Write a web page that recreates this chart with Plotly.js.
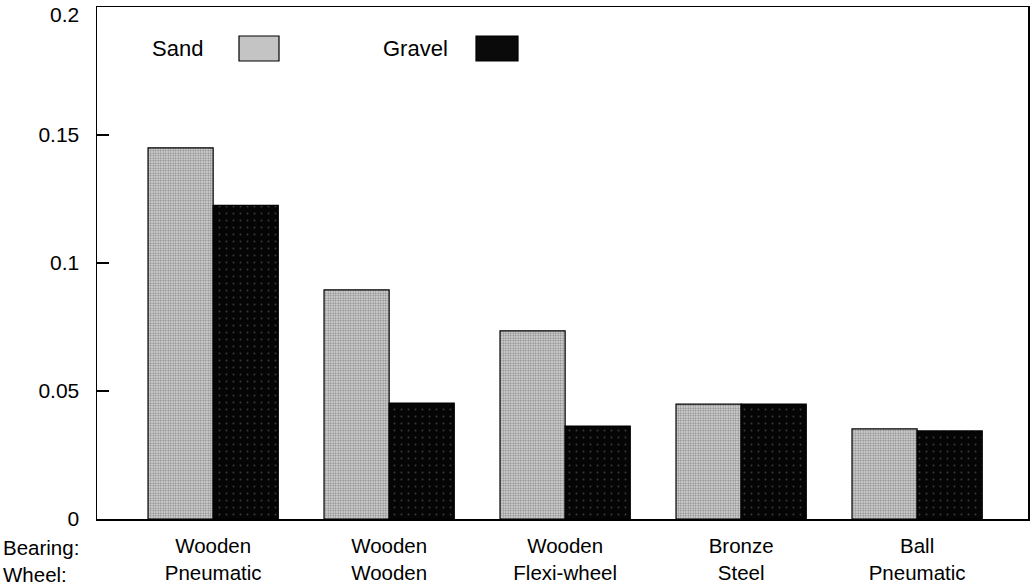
<!DOCTYPE html>
<html>
<head>
<meta charset="utf-8">
<script src="https://cdn.plot.ly/plotly-3.0.1.min.js"></script>
<style>html,body{margin:0;padding:0;background:#fff;}#chart{width:1033px;height:588px;}</style>
</head>
<body>
<div id="chart"></div>
<script>
const bearings = ["Wooden", "Wooden", "Wooden", "Bronze", "Ball"];
const wheels = ["Pneumatic", "Wooden", "Flexi-wheel", "Steel", "Pneumatic"];
const sand = [0.145, 0.0895, 0.0735, 0.0449, 0.0352];
const gravel = [0.1225, 0.0453, 0.0363, 0.0449, 0.0344];
const yTicks = [0, 0.05, 0.1, 0.15, 0.2];
const yTickLabels = ["0", "0.05", "0.1", "0.15", "0.2"];

const cats = bearings.map((b, i) => "c" + i);
const catLabels = bearings.map((b, i) => b + "<br>" + wheels[i]);

const FONT = "Liberation Sans, Arial, Helvetica, sans-serif";

const traces = [
  {
    type: "bar", name: "Sand", x: cats, y: sand,
    marker: {
      color: "#e0e0e0",
      line: {color: "#000", width: 1.2},
      pattern: {shape: ".", fgcolor: "#8c8c8c", bgcolor: "#e2e2e2", size: 2.5, solidity: 0.5}
    }
  },
  {
    type: "bar", name: "Gravel", x: cats, y: gravel,
    marker: {
      color: "#050505",
      line: {color: "#000", width: 1.2},
      pattern: {shape: ".", fgcolor: "#3a3a3a", bgcolor: "#050505", size: 7, solidity: 0.06}
    }
  }
];

const px = v => (v - 97) / 931;
const py = v => (519 - v) / 512;

// the top tick label sits just under the frame in the reference; draw it as an annotation
const lastIdx = yTicks.length - 1;
const axisTickText = yTickLabels.map((t, i) => i === lastIdx ? "" : t);

const layout = {
  width: 1033, height: 588,
  margin: {l: 97, r: 5, t: 7, b: 69},
  paper_bgcolor: "#fff", plot_bgcolor: "#fff",
  showlegend: false,
  barmode: "group",
  bargap: 0.26,
  bargroupgap: 0,
  font: {family: FONT, size: 21, color: "#000"},
  xaxis: {
    type: "category",
    range: [-0.66, 4.63],
    tickvals: cats, ticktext: catLabels,
    showline: true, linecolor: "#000", linewidth: 1.5, mirror: true,
    ticks: "", showgrid: false, zeroline: false,
    ticklabelstandoff: 8,
    ticklabeloverflow: "allow",
    tickfont: {family: FONT, size: 20.5, color: "#000"}
  },
  yaxis: {
    range: [0, 0.2],
    tickvals: yTicks, ticktext: axisTickText,
    showline: true, linecolor: "#000", linewidth: 1.5, mirror: true,
    ticks: "inside", ticklen: 12, tickcolor: "#000", tickwidth: 1.2,
    showgrid: false, zeroline: false,
    ticklabelstandoff: 12,
    ticklabeloverflow: "allow",
    tickfont: {family: FONT, size: 21, color: "#000"}
  },
  shapes: [
    {type: "rect", xref: "paper", yref: "paper", x0: px(239), x1: px(279), y0: py(61), y1: py(36),
     fillcolor: "#c4c4c4", line: {color: "#000", width: 1.2}},
    {type: "rect", xref: "paper", yref: "paper", x0: px(476), x1: px(518), y0: py(61), y1: py(36),
     fillcolor: "#0a0a0a", line: {color: "#000", width: 1.2}}
  ],
  annotations: [
    {text: yTickLabels[lastIdx], xref: "paper", yref: "y", x: px(81), y: yTicks[lastIdx],
     xanchor: "right", yanchor: "middle", yshift: -7,
     showarrow: false, font: {family: FONT, size: 21, color: "#000"}},
    {text: "Sand", xref: "paper", yref: "paper", x: px(150), y: py(48), xanchor: "left", yanchor: "middle",
     showarrow: false, font: {family: FONT, size: 22, color: "#000"}},
    {text: "Gravel", xref: "paper", yref: "paper", x: px(381), y: py(48), xanchor: "left", yanchor: "middle",
     showarrow: false, font: {family: FONT, size: 22, color: "#000"}},
    {text: "Bearing:<br>Wheel:", xref: "paper", yref: "paper", x: px(1), y: py(548), xanchor: "left", yanchor: "middle",
     align: "left", showarrow: false, yshift: -13, font: {family: FONT, size: 20.5, color: "#000"}}
  ]
};

Plotly.newPlot("chart", traces, layout, {displayModeBar: false, staticPlot: true});
</script>
</body>
</html>
